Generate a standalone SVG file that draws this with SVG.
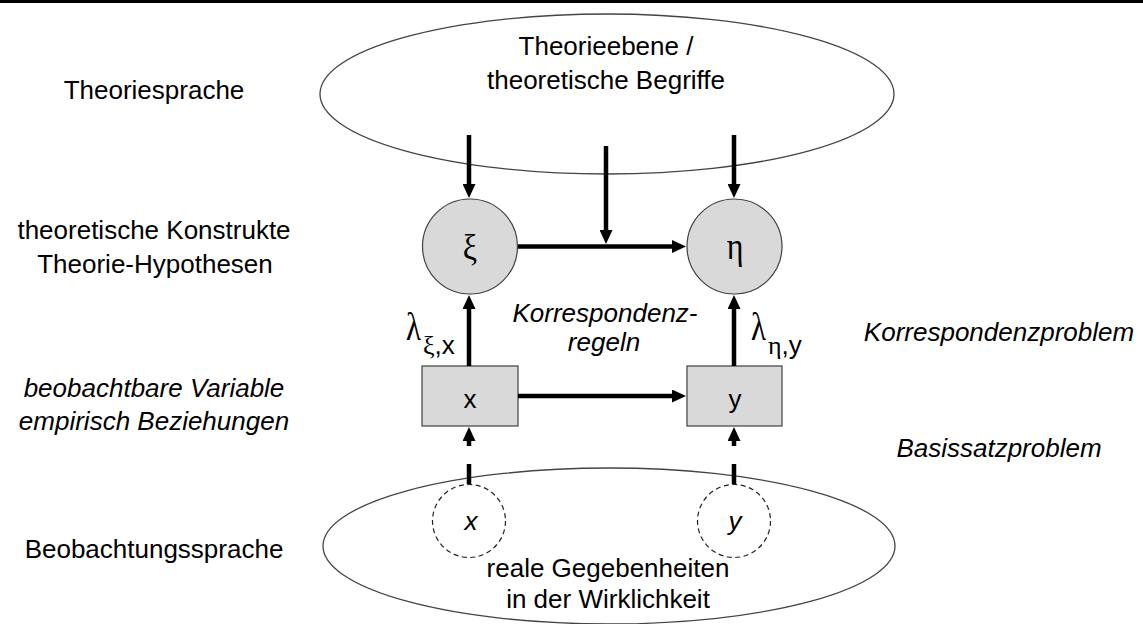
<svg xmlns="http://www.w3.org/2000/svg" width="1143" height="624" viewBox="0 0 1143 624">
  <style>
    .lbl { font-family: "Liberation Sans", Arial, sans-serif; font-size: 26px; fill: #000; }
    .it { font-style: italic; }
    .mid { text-anchor: middle; }
    .greek { font-family: "Liberation Serif", "Times New Roman", serif; fill: #000; }
    .plane { fill: none; stroke: #444; stroke-width: 1.3; }
    .latent { fill: #d9d9d9; stroke: #404040; stroke-width: 1.2; }
    .manifest { fill: #d9d9d9; stroke: #404040; stroke-width: 1.2; }
    .real { fill: none; stroke: #222; stroke-width: 1.2; stroke-dasharray: 5 3.5; }
    .arr { stroke: #000; stroke-width: 4.5; fill: none; }
  </style>
  <defs>
    <marker id="head" viewBox="0 0 14 13" markerWidth="14" markerHeight="13" refX="1" refY="6.5" markerUnits="userSpaceOnUse" orient="auto">
      <path d="M0,0 L14,6.5 L0,13 z" fill="#000"/>
    </marker>
  </defs>

  <rect x="0" y="0" width="1143" height="3" fill="#000"/>

  <!-- theory plane -->
  <g id="theory-plane">
    <ellipse class="plane" cx="607" cy="94" rx="287" ry="80"/>
    <text class="lbl mid" x="606" y="55">Theorieebene /</text>
    <text class="lbl mid" x="606" y="89">theoretische Begriffe</text>
  </g>

  <!-- observation plane -->
  <g id="observation-plane">
    <ellipse class="plane" cx="609" cy="546" rx="286" ry="78"/>
    <text class="lbl mid" x="608" y="577">reale Gegebenheiten</text>
    <text class="lbl mid" x="608" y="608">in der Wirklichkeit</text>
  </g>

  <!-- latent constructs -->
  <g id="xi">
    <circle class="latent" cx="470" cy="246.5" r="47.5"/>
    <text class="greek mid" transform="translate(470,259) scale(1,1.1)" font-size="32">ξ</text>
  </g>
  <g id="eta">
    <circle class="latent" cx="734.5" cy="246.5" r="47.5"/>
    <text class="greek mid" transform="translate(735,259) scale(1,1.2)" font-size="32">η</text>
  </g>

  <!-- observed variables -->
  <g id="x-box">
    <rect class="manifest" x="422" y="366" width="96" height="60"/>
    <text class="lbl mid" x="470" y="408" font-size="33">x</text>
  </g>
  <g id="y-box">
    <rect class="manifest" x="687" y="366" width="95" height="60"/>
    <text class="lbl mid" x="735" y="408" font-size="33">y</text>
  </g>

  <!-- real-world events -->
  <g id="x-real">
    <circle class="real" cx="469" cy="521" r="36.5"/>
    <text class="lbl it mid" x="471" y="530" font-size="25">x</text>
  </g>
  <g id="y-real">
    <circle class="real" cx="734" cy="521" r="36.5"/>
    <text class="lbl it mid" x="735" y="530" font-size="25">y</text>
  </g>

  <!-- connectors -->
  <g id="connectors">
    <line class="arr" x1="469" y1="135" x2="469" y2="185" marker-end="url(#head)"/>
    <line class="arr" x1="606" y1="146" x2="606" y2="231" marker-end="url(#head)"/>
    <line class="arr" x1="734" y1="135" x2="734" y2="185" marker-end="url(#head)"/>
    <line class="arr" x1="518" y1="246.5" x2="673" y2="246.5" marker-end="url(#head)"/>
    <line class="arr" x1="469" y1="366" x2="469" y2="308" marker-end="url(#head)"/>
    <line class="arr" x1="734" y1="366" x2="734" y2="308" marker-end="url(#head)"/>
    <line class="arr" x1="518" y1="396" x2="673" y2="396" marker-end="url(#head)"/>
    <line class="arr" x1="469" y1="484" x2="469" y2="464"/>
    <line class="arr" x1="469" y1="446" x2="469" y2="440" marker-end="url(#head)"/>
    <line class="arr" x1="734" y1="484" x2="734" y2="464"/>
    <line class="arr" x1="734" y1="446" x2="734" y2="440" marker-end="url(#head)"/>
  </g>

  <!-- loadings -->
  <g id="lambda-x">
    <text class="greek" transform="translate(406,340) scale(1,1.3)" font-size="31">λ</text>
    <text class="lbl" x="423" y="354" font-size="18"><tspan font-family="Liberation Serif, serif">ξ</tspan>,x</text>
  </g>
  <g id="lambda-y">
    <text class="greek" transform="translate(751,340) scale(1,1.3)" font-size="31">λ</text>
    <text class="lbl" x="768" y="354" font-size="18"><tspan font-family="Liberation Serif, serif">η</tspan>,y</text>
  </g>

  <g id="correspondence-rules">
    <text class="lbl it mid" x="605" y="322">Korrespondenz-</text>
    <text class="lbl it mid" x="604" y="351">regeln</text>
  </g>

  <!-- level labels, left -->
  <g id="labels-left">
    <text class="lbl mid" x="154" y="99">Theoriesprache</text>
    <text class="lbl mid" x="154" y="239">theoretische Konstrukte</text>
    <text class="lbl mid" x="155" y="273">Theorie-Hypothesen</text>
    <text class="lbl it mid" x="154" y="397">beobachtbare Variable</text>
    <text class="lbl it mid" x="154" y="430">empirisch Beziehungen</text>
    <text class="lbl mid" x="154" y="558">Beobachtungssprache</text>
  </g>

  <!-- problem labels, right -->
  <g id="labels-right">
    <text class="lbl it mid" x="999" y="341">Korrespondenzproblem</text>
    <text class="lbl it mid" x="999" y="457">Basissatzproblem</text>
  </g>
</svg>
